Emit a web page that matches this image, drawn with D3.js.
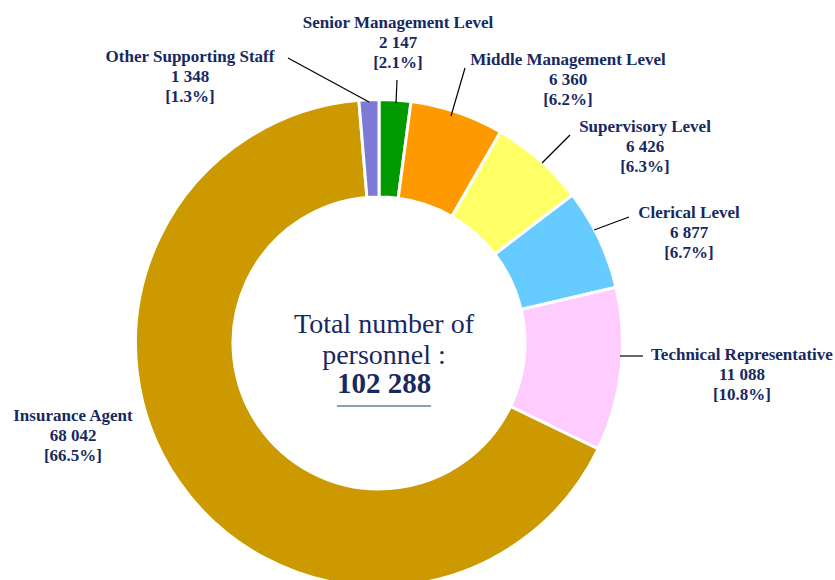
<!DOCTYPE html>
<html><head><meta charset="utf-8">
<script src="https://cdn.jsdelivr.net/npm/d3@7"></script>
<style>body{margin:0;background:#fff}svg{display:block}</style>
</head><body>
<svg id="c" width="835" height="580"></svg>
<script>
const categories = ["Senior Management Level","Middle Management Level","Supervisory Level","Clerical Level","Technical Representative","Insurance Agent","Other Supporting Staff"];
const values = [2147, 6360, 6426, 6877, 11088, 68042, 1348];
const valueLabels = ["2 147","6 360","6 426","6 877","11 088","68 042","1 348"];
const percentLabels = ["[2.1%]","[6.2%]","[6.3%]","[6.7%]","[10.8%]","[66.5%]","[1.3%]"];
const colors = ["#009900","#FF9900","#FFFF66","#66CCFF","#FFCCFF","#CC9900","#7B7BD6"];
const totalLabel = "102 288";

const labelPos = [[398,28],[568,65],[645,132],[689,218],[742,360],[73,421],[190,62]];
const leaders = [[[397,80],[396,103]],[[465,68],[451,116]],[[570,135],[542,163]],[[629,217],[594,230]],[[643,356],[620,356]],null,[[288,58],[369,102]]];

const svg = d3.select("#c");
const cx = 379, cy = 343;
const g = svg.append("g").attr("transform", `translate(${cx},${cy})`);
const pie = d3.pie().sort(null).value(d => d)(values);
const arc = d3.arc().innerRadius(146).outerRadius(243.5);
g.selectAll("path").data(pie).join("path")
  .attr("d", arc).attr("fill", (d,i) => colors[i])
  .attr("stroke", "#fff").attr("stroke-width", 3).attr("stroke-linejoin","miter");

const navy = "#17295F";
const serif = "'Liberation Serif','Times New Roman',Times,serif";
leaders.forEach(l => { if (!l) return;
  svg.append("line").attr("x1",l[0][0]).attr("y1",l[0][1]).attr("x2",l[1][0]).attr("y2",l[1][1])
    .attr("stroke","#000").attr("stroke-width",1.2);
});
categories.forEach((c,i) => {
  const t = svg.append("text").attr("x",labelPos[i][0]).attr("y",labelPos[i][1])
    .attr("text-anchor","middle").attr("fill",navy)
    .style("font-family",serif).style("font-weight","bold").style("font-size","17px");
  [c, valueLabels[i], percentLabels[i]].forEach((s,k) => t.append("tspan").attr("x",labelPos[i][0]).attr("dy", k===0?0:20).text(s));
});

const ct = svg.append("text").attr("text-anchor","middle").attr("fill",navy)
  .style("font-family",serif).style("font-size","28px");
ct.append("tspan").attr("x",384).attr("y",333).text("Total number of");
ct.append("tspan").attr("x",384).attr("y",364).text("personnel :");
const bt = svg.append("text").attr("x",384).attr("y",393).attr("text-anchor","middle").attr("fill",navy)
  .style("font-family",serif).style("font-weight","bold").style("font-size","29px").text(totalLabel);
const bb = bt.node().getBBox();
svg.append("line").attr("x1",bb.x).attr("x2",bb.x+bb.width).attr("y1",406).attr("y2",406).attr("stroke","#6B7BA8").attr("stroke-width",1.3);
</script>
</body></html>
